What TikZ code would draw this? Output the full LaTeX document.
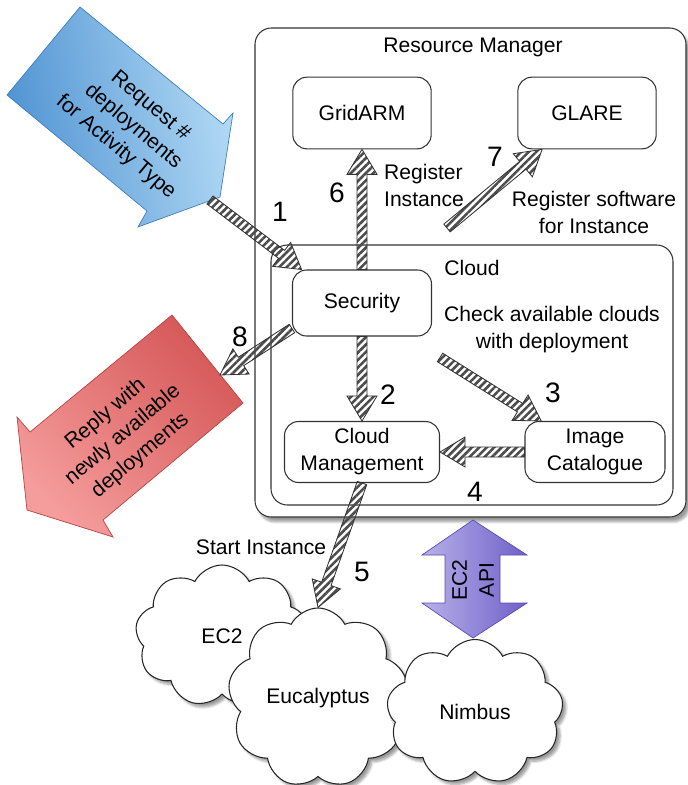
\documentclass[tikz,border=0pt]{standalone}
\usepackage{fontspec}
\setmainfont{Liberation Sans}
\usetikzlibrary{calc,shapes.symbols,patterns.meta,shadows.blur}

\definecolor{reqdark}{HTML}{4F93D2}
\definecolor{reqlight}{HTML}{B3DAF5}
\definecolor{reqedge}{HTML}{3F7FBF}
\definecolor{repdark}{HTML}{D65858}
\definecolor{replight}{HTML}{F59C9C}
\definecolor{repedge}{HTML}{B84444}
\definecolor{apidark}{HTML}{6E60C8}
\definecolor{apilight}{HTML}{B8B0EA}
\definecolor{apiedge}{HTML}{5A4DB0}

% fat striped arrow from #1 to #2
\newcommand{\hatcharrow}[2]{%
  \coordinate (hb) at ($(#2)!0.75cm!(#1)$);
  \draw[hatch] ($(#1)!0.15cm!90:(#2)$) -- ($(hb)!0.15cm!-90:(#1)$)
    -- ($(hb)!0.45cm!-90:(#1)$) -- (#2) -- ($(hb)!0.45cm!90:(#1)$)
    -- ($(hb)!0.15cm!90:(#1)$) -- ($(#1)!0.15cm!-90:(#2)$) -- cycle;}

\begin{document}
\begin{tikzpicture}[x=0.03cm, y=-0.03cm,
    lbl/.style={font=\fontsize{18}{23}\selectfont, align=center},
    num/.style={font=\fontsize{24}{28}\selectfont},
    box/.style={draw=black!80, line width=0.9pt, rounded corners=12pt,
      fill=white, lbl, minimum width=4.15cm, minimum height=2.15cm},
    hatch/.style={draw=black!80, line width=0.7pt,
      pattern={Lines[angle=45,distance=4.5pt,line width=2.2pt]},
      pattern color=black!70},
    puff/.style={cloud, cloud puffs=9, cloud puff arc=125, draw=black!85,
      line width=0.9pt, fill=white, lbl,
      blur shadow={shadow xshift=3pt, shadow yshift=-3pt, shadow blur steps=6}}]
  \useasboundingbox (0,0) rectangle (687,785);

  % resource manager and cloud frames
  \draw[black!80, line width=0.9pt, rounded corners=14pt, fill=white,
    blur shadow={shadow xshift=3pt, shadow yshift=-4pt, shadow blur steps=8}]
    (255,28) rectangle (686,517);
  \draw[black!80, line width=0.9pt, rounded corners=14pt] (271,245) rectangle (673,505);
  \node[lbl] (rmlabel) at (473,47) {Resource Manager};
  \node[lbl] (cloudlabel) at (472,268) {Cloud};

  \node[box] (gridarm) at (362,113) {GridARM};
  \node[box] (glare) at (587,113) {GLARE};
  \node[box, minimum width=4.17cm, minimum height=1.98cm] (sec) at (362,303) {Security};
  \node[box, minimum width=4.65cm, minimum height=1.83cm] (cm) at (362,452) {Cloud\\Management};
  \node[box, minimum width=4.2cm, minimum height=1.83cm] (ic) at (595,452) {Image\\Catalogue};

  \node[lbl, align=left, anchor=west] (reginst) at (380,185) {Register\\Instance};
  \node[lbl] (regsoft) at (594,212) {Register software\\for Instance};
  \node[lbl] (check) at (552,330) {Check available clouds\\with deployment};
  \node[lbl] (start) at (261,547) {Start Instance};

  % request arrow
  \draw[reqedge, line width=0.6pt, left color=reqdark, right color=reqlight, shading angle=100]
    (80,7) -- (223,124) -- (233,113) -- (220,197) -- (138,227) -- (147,211)
    -- (7,95) -- cycle;
  \coordinate (reqtip) at (210,200);
  \node[lbl, rotate=-40] (req) at (133,127) {Request \#\\deployments\\for Activity Type};

  % reply arrow
  \draw[repedge, line width=0.6pt, left color=replight, right color=repdark, shading angle=135]
    (172,315) -- (243,403) -- (103,520) -- (113,537) -- (27,510) -- (17,417)
    -- (30,432) -- cycle;
  \coordinate (replyin) at (220,375);
  \node[lbl, rotate=40] (rep) at (123,435) {Reply with\\newly available\\deployments};

  % clouds
  \node[puff, minimum width=5.2cm, minimum height=4.26cm] (ec2) at (222,636) {EC2};
  \node[puff, minimum width=5.1cm, minimum height=4.3cm] (euc) at (318,698) {Eucalyptus};
  \node[puff, minimum width=5.3cm, minimum height=4.35cm] (nimbus) at (475,712) {Nimbus};

  % EC2 API double arrow
  \draw[apiedge, line width=0.6pt, left color=apilight, right color=apidark]
    (473,520) -- (527,555) -- (500,555) -- (500,603) -- (527,603) -- (473,638)
    -- (422,603) -- (445,603) -- (445,555) -- (422,555) -- cycle;
  \node[lbl, rotate=90] (api) at (473,580) {EC2\\API};

  % numbered steps
  \hatcharrow{reqtip}{sec.151}
  \hatcharrow{sec.south}{cm.north}
  \hatcharrow{check.south west}{ic.150}
  \hatcharrow{ic.west}{cm.east}
  \hatcharrow{cm.south}{euc.north}
  \hatcharrow{sec.north}{gridarm.south}
  \coordinate (r7) at (447,228);
  \hatcharrow{r7}{glare.219}
  \hatcharrow{sec.200}{replyin}

  \node[num] (n1) at (280,212) {1};
  \node[num] (n2) at (388,395) {2};
  \node[num] (n3) at (553,393) {3};
  \node[num] (n4) at (475,492) {4};
  \node[num] (n5) at (362,572) {5};
  \node[num] (n6) at (337,193) {6};
  \node[num] (n7) at (495,157) {7};
  \node[num] (n8) at (240,337) {8};
\end{tikzpicture}
\end{document}
